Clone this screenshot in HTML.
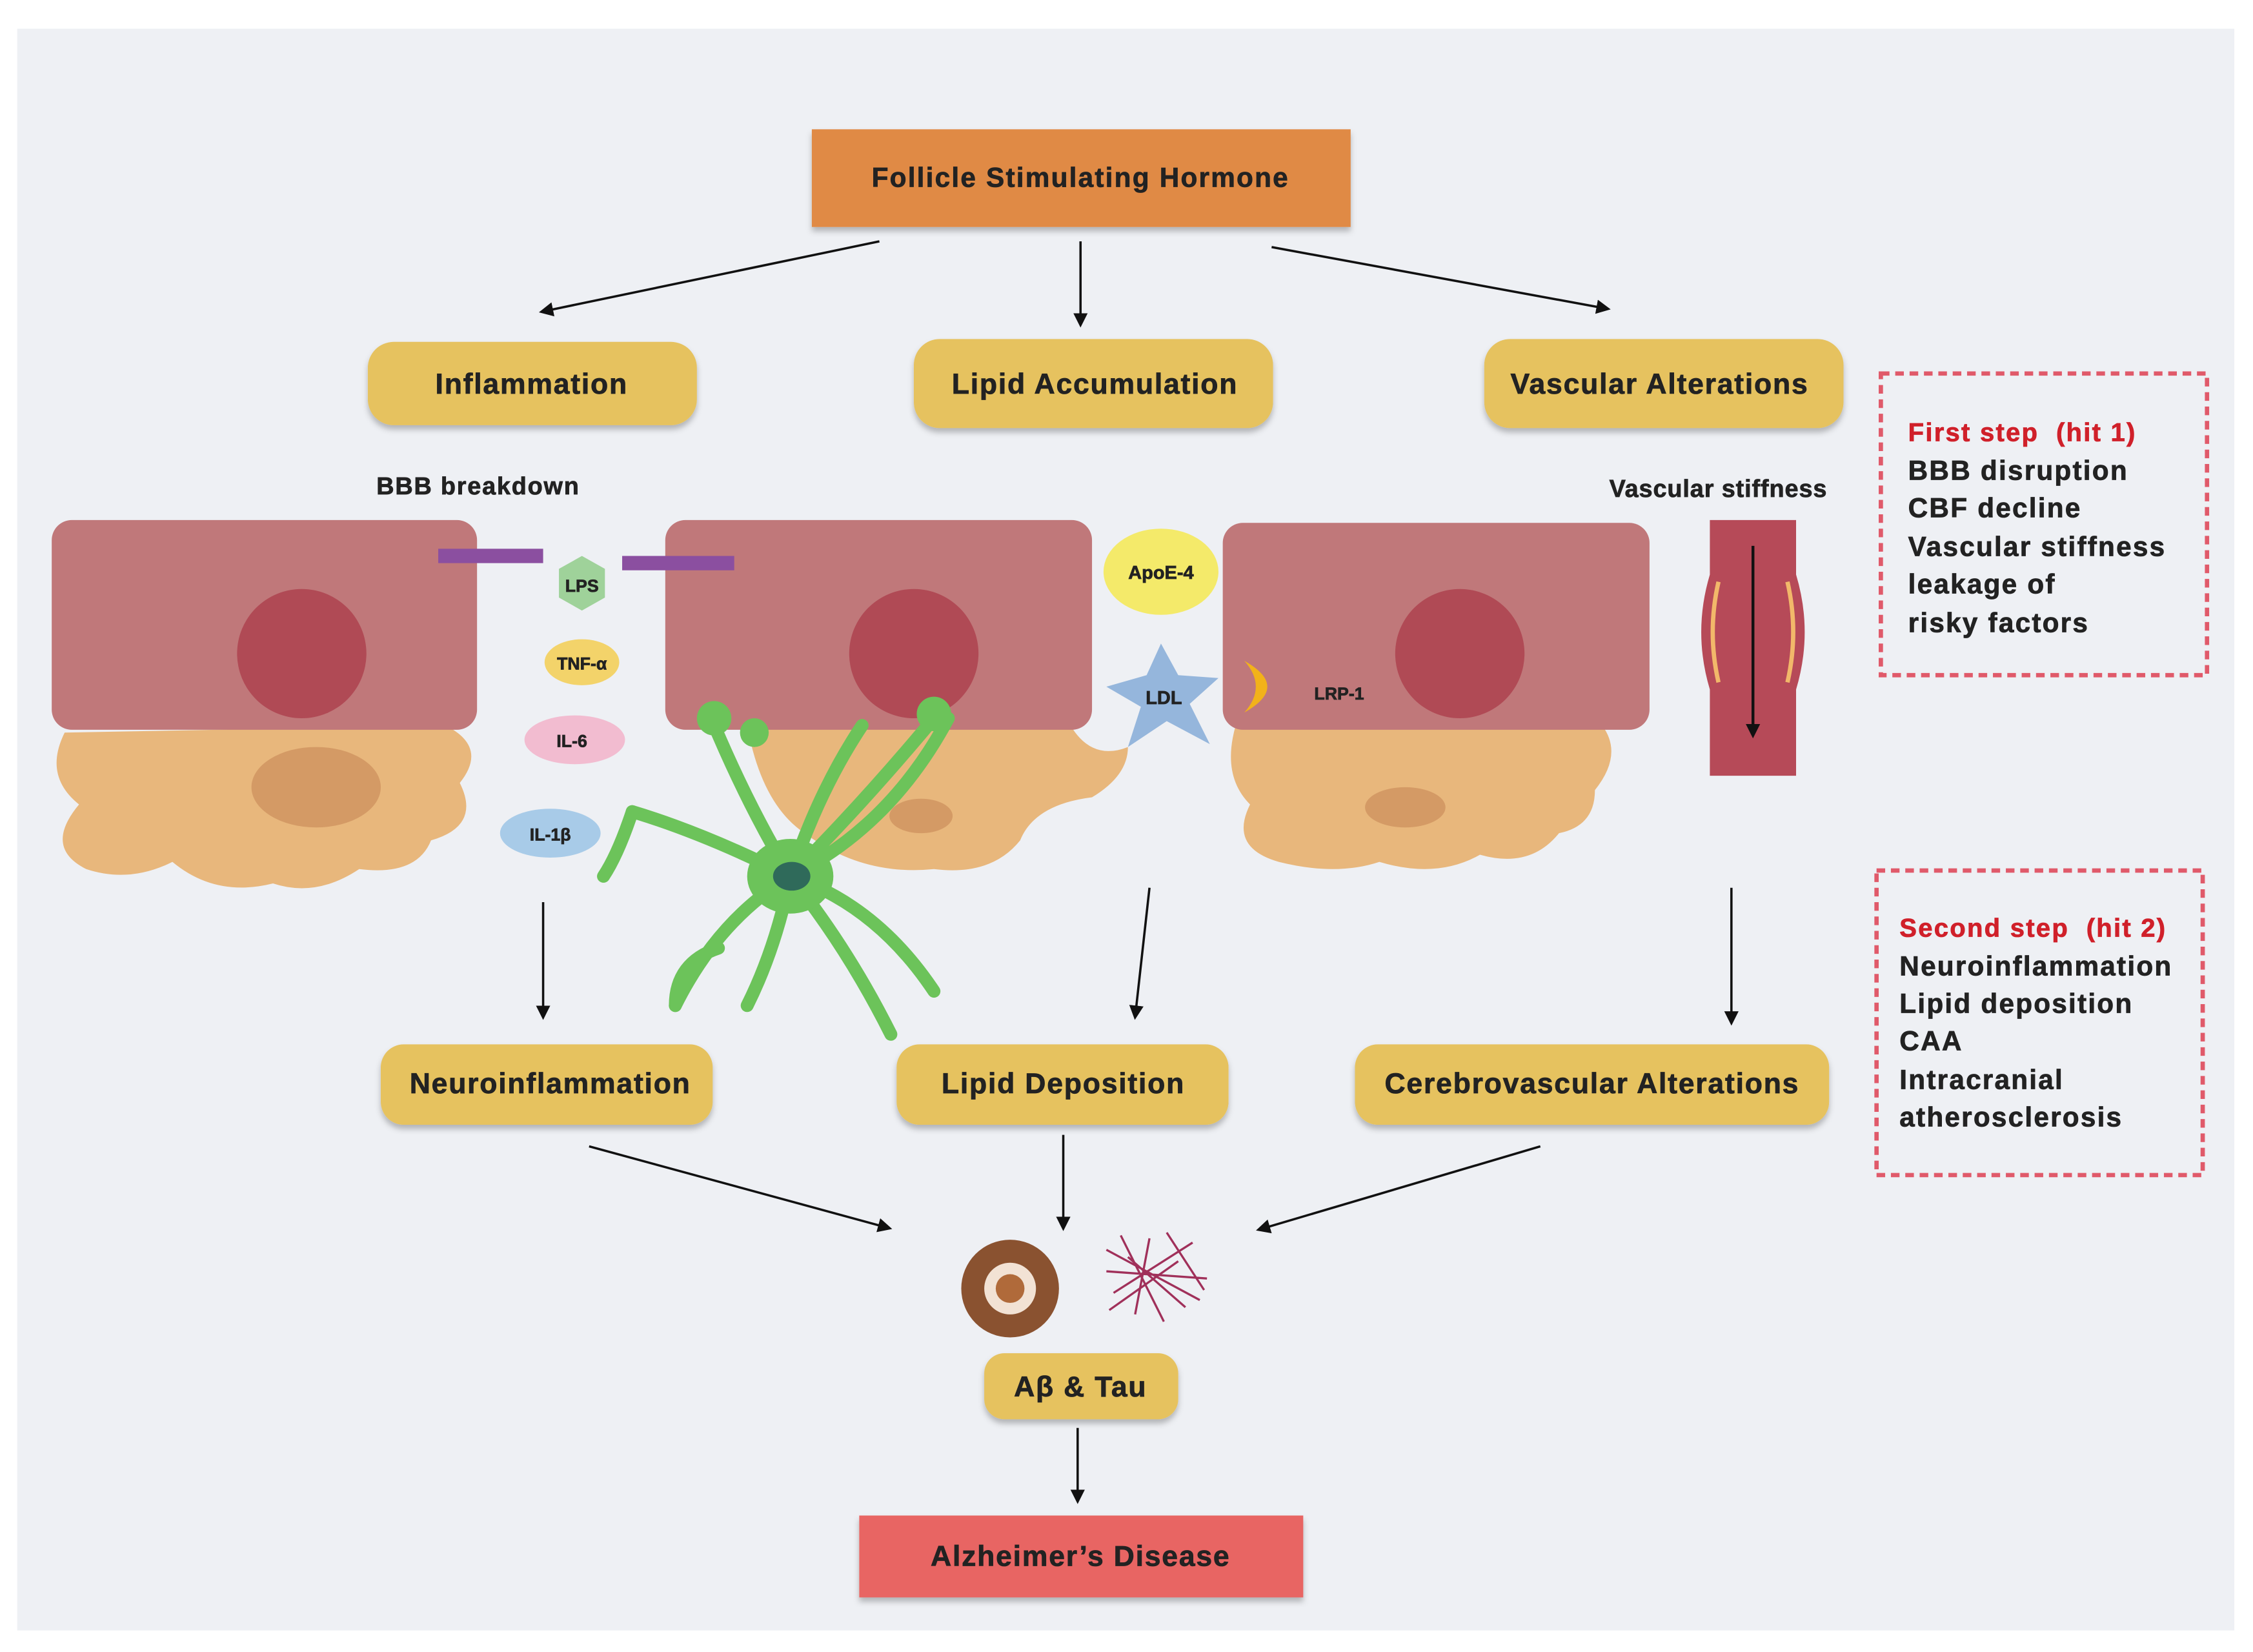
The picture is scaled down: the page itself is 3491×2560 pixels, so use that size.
<!DOCTYPE html>
<html><head><meta charset="utf-8"><style>
html,body{margin:0;padding:0;background:#fff;}
svg{display:block;}
text{font-family:"Liberation Sans",sans-serif;font-weight:bold;fill:#222;stroke:#222;stroke-width:0.35;white-space:pre;}
</style></head><body>
<svg width="3491" height="2560" viewBox="0 0 1568 1150" preserveAspectRatio="none" xmlns="http://www.w3.org/2000/svg">
<defs>
<marker id="ah" markerWidth="10" markerHeight="10" refX="8" refY="5" orient="auto" markerUnits="userSpaceOnUse"><path d="M0,0 L10,5 L0,10 z" fill="#111"/></marker>
<filter id="sh" x="-10%" y="-20%" width="120%" height="150%"><feDropShadow dx="0" dy="3" stdDeviation="2" flood-color="#000" flood-opacity="0.25"/></filter>
</defs>
<rect x="0" y="0" width="1568" height="1150" fill="#fff"/>
<rect x="12" y="20" width="1543" height="1115" fill="#eef0f4"/>

<rect x="565" y="90" width="375" height="68" fill="#e08a45" filter="url(#sh)"/>
<text x="752" y="130" font-size="19" letter-spacing="1" text-anchor="middle">Follicle Stimulating Hormone</text>

<g stroke="#111" stroke-width="1.6" fill="none" marker-end="url(#ah)">
<line x1="612" y1="168" x2="377" y2="217"/>
<line x1="752" y1="168" x2="752" y2="226"/>
<line x1="885" y1="172" x2="1119" y2="215"/>
<line x1="378" y1="628" x2="378" y2="708"/>
<line x1="800" y1="618" x2="790" y2="708"/>
<line x1="1205" y1="618" x2="1205" y2="712"/>
<line x1="410" y1="798" x2="619" y2="855"/>
<line x1="740" y1="790" x2="740" y2="855"/>
<line x1="1072" y1="798" x2="876" y2="856"/>
<line x1="750" y1="994" x2="750" y2="1045"/>
</g>

<g fill="#e6c25e" filter="url(#sh)">
<rect x="256" y="238" width="229" height="58" rx="18"/>
<rect x="636" y="236" width="250" height="62" rx="18"/>
<rect x="1033" y="236" width="250" height="62" rx="18"/>
<rect x="265" y="727" width="231" height="56" rx="16"/>
<rect x="624" y="727" width="231" height="56" rx="16"/>
<rect x="943" y="727" width="330" height="56" rx="16"/>
<rect x="685" y="942" width="135" height="46" rx="14"/>
</g>
<g font-size="20" letter-spacing="0.8">
<text x="370" y="274" text-anchor="middle">Inflammation</text>
<text x="762" y="274" text-anchor="middle">Lipid Accumulation</text>
<text x="1155" y="274" text-anchor="middle">Vascular Alterations</text>
<text x="383" y="761" text-anchor="middle">Neuroinflammation</text>
<text x="740" y="761" text-anchor="middle">Lipid Deposition</text>
<text x="1108" y="761" text-anchor="middle">Cerebrovascular Alterations</text>
<text x="752" y="972" text-anchor="middle">Aβ &amp; Tau</text>
</g>

<text x="262" y="344" font-size="17" letter-spacing="0.8">BBB breakdown</text>
<text x="1120" y="346" font-size="17" letter-spacing="0.4">Vascular stiffness</text>

<rect x="1309" y="260" width="227" height="210" fill="none" stroke="#e05a6a" stroke-width="3" stroke-dasharray="6,4"/>
<g font-size="19" letter-spacing="1">
<text x="1328" y="307" font-size="18" style="fill:#d0202a;stroke:#d0202a">First step  (hit 1)</text>
<text x="1328" y="334">BBB disruption</text>
<text x="1328" y="360">CBF decline</text>
<text x="1328" y="387">Vascular stiffness</text>
<text x="1328" y="413">leakage of</text>
<text x="1328" y="440">risky factors</text>
</g>
<rect x="1306" y="606" width="227" height="212" fill="none" stroke="#e05a6a" stroke-width="3" stroke-dasharray="6,4"/>
<g font-size="19" letter-spacing="1">
<text x="1322" y="652" font-size="18" style="fill:#d0202a;stroke:#d0202a">Second step  (hit 2)</text>
<text x="1322" y="679">Neuroinflammation</text>
<text x="1322" y="705">Lipid deposition</text>
<text x="1322" y="731">CAA</text>
<text x="1322" y="758">Intracranial</text>
<text x="1322" y="784">atherosclerosis</text>
</g>

<g fill="#e8b77c">
<path d="M45,510 Q30,540 55,560 Q30,590 60,605 Q90,615 120,600 Q150,625 190,615 Q220,625 250,605 Q290,610 300,585 Q335,575 320,545 Q340,520 310,505 Z"/>
<path d="M480,505 L520,505 Q530,560 560,580 Q600,610 650,605 Q690,610 710,585 Q720,560 760,555 Q785,540 785,520 Q760,530 745,505 Z"/>
<path d="M860,505 Q850,540 870,560 Q855,590 890,600 Q930,610 960,600 Q1000,612 1030,595 Q1065,605 1085,580 Q1110,575 1110,550 Q1130,525 1115,505 Z"/>
</g>
<g fill="#d49a65">
<ellipse cx="220" cy="548" rx="45" ry="28"/>
<ellipse cx="641" cy="568" rx="22" ry="12"/>
<ellipse cx="978" cy="562" rx="28" ry="14"/>
</g>
<g fill="#c0787a">
<rect x="36" y="362" width="296" height="146" rx="14"/>
<rect x="463" y="362" width="297" height="146" rx="14"/>
<rect x="851" y="364" width="297" height="144" rx="14"/>
</g>
<g fill="#b04a55">
<circle cx="210" cy="455" r="45"/>
<circle cx="636" cy="455" r="45"/>
<circle cx="1016" cy="455" r="45"/>
</g>
<rect x="305" y="382" width="73" height="10" fill="#8b4fa0"/>
<rect x="433" y="387" width="78" height="10" fill="#8b4fa0"/>

<polygon points="405,387 421,396 421,416 405,425 389,416 389,396" fill="#9fd29a"/>
<text x="405" y="412" font-size="12" text-anchor="middle">LPS</text>
<ellipse cx="405" cy="461" rx="26" ry="16" fill="#f3d36a"/>
<text x="405" y="466" font-size="12" text-anchor="middle">TNF-α</text>
<ellipse cx="400" cy="515" rx="35" ry="17" fill="#f2bcd0"/>
<text x="398" y="520" font-size="12" text-anchor="middle">IL-6</text>
<ellipse cx="383" cy="580" rx="35" ry="17" fill="#a8cbe8"/>
<text x="383" y="585" font-size="12" text-anchor="middle">IL-1β</text>
<ellipse cx="808" cy="398" rx="40" ry="30" fill="#f4ea6a"/>
<text x="808" y="403" font-size="13" text-anchor="middle">ApoE-4</text>
<polygon points="808,448 820,470 848,472 828,490 842,518 812,502 785,520 794,492 770,478 798,470" fill="#95b6dc"/>
<text x="810" y="490" font-size="13" text-anchor="middle">LDL</text>
<path d="M866,460 Q898,478 866,496 Q882,478 866,460 Z" fill="#f2b21a"/>
<text x="932" y="487" font-size="12" text-anchor="middle">LRP-1</text>

<path d="M1190,362 L1250,362 L1250,400 Q1262,440 1250,480 L1250,540 L1190,540 L1190,480 Q1178,440 1190,400 Z" fill="#b64a58"/>
<path d="M1196,405 Q1188,440 1196,475 M1244,405 Q1252,440 1244,475" stroke="#f2b86a" stroke-width="3" fill="none"/>
<line x1="1220" y1="380" x2="1220" y2="512" stroke="#111" stroke-width="2" marker-end="url(#ah)"/>

<g stroke="#6cc35a" stroke-width="9" fill="none" stroke-linecap="round">
<path d="M550,610 Q520,560 495,500"/>
<path d="M550,610 Q570,550 600,505"/>
<path d="M550,610 Q600,560 650,500"/>
<path d="M550,610 Q620,575 660,500"/>
<path d="M550,610 Q490,580 440,565"/>
<path d="M550,610 Q500,640 470,700"/>
<path d="M550,610 Q540,660 520,700"/>
<path d="M550,610 Q590,660 620,720"/>
<path d="M550,610 Q610,630 650,690"/>
<path d="M470,700 Q470,670 500,660"/>
<path d="M440,565 Q430,595 420,610"/>
</g>
<circle cx="497" cy="500" r="12" fill="#6cc35a"/>
<circle cx="525" cy="510" r="10" fill="#6cc35a"/>
<circle cx="650" cy="497" r="12" fill="#6cc35a"/>
<ellipse cx="550" cy="610" rx="30" ry="26" fill="#6cc35a"/>
<ellipse cx="551" cy="610" rx="13" ry="10" fill="#2f6a5a"/>

<circle cx="703" cy="897" r="34" fill="#8a5230"/>
<circle cx="703" cy="897" r="18" fill="#f2e2d4"/>
<circle cx="703" cy="897" r="10" fill="#b06a3a"/>
<g stroke="#a0305a" stroke-width="1.5" fill="none">
<path d="M770,870 L835,905 M775,900 L830,865 M780,860 L810,920 M800,862 L790,915 M770,885 L840,890 M785,875 L825,910 M812,858 L838,898 M772,912 L820,878"/>
</g>

<rect x="598" y="1055" width="309" height="57" fill="#e86563" filter="url(#sh)"/>
<text x="752" y="1090" font-size="20" letter-spacing="0.8" text-anchor="middle">Alzheimer’s Disease</text>
</svg>
</body></html>
